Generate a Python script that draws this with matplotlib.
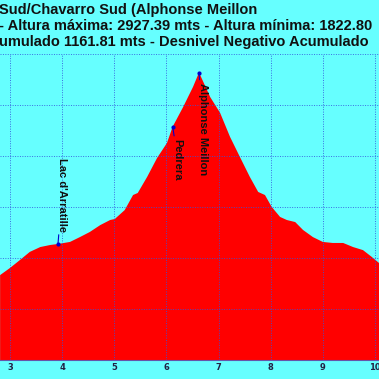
import matplotlib.pyplot as plt
import numpy as np

# perfil (km, metros) - tramo visible
dist = [2.81, 3.00, 3.19, 3.38, 3.58, 3.77, 3.92, 4.15, 4.34, 4.53, 4.73, 4.92, 5.01,
        5.20, 5.36, 5.45, 5.63, 5.82, 6.01, 6.12, 6.32, 6.51, 6.625, 6.84, 7.03, 7.22,
        7.41, 7.60, 7.76, 7.89, 8.02, 8.18, 8.31, 8.47, 8.62, 8.81, 9.00, 9.19, 9.39,
        9.58, 9.77, 9.94, 10.08]
alt = [2133, 2161, 2192, 2224, 2243, 2251, 2255, 2263, 2282, 2302, 2329, 2349, 2353,
       2388, 2447, 2455, 2518, 2592, 2651, 2715, 2792, 2871, 2927.39, 2831, 2769, 2675,
       2596, 2518, 2459, 2447, 2400, 2361, 2349, 2341, 2310, 2282, 2263, 2259, 2259,
       2243, 2231, 2204, 2180]

wp_names = ["Lac d'Arratille", "Pedrera", "Alphonse Meillon"]
wp_km = [3.92, 6.12, 6.625]
wp_alt = [2255, 2715, 2927.39]
wp_off = [(4, 12), (5, -12), (4, -10)]
wp_va = ["bottom", "top", "top"]

xticks = [3, 4, 5, 6, 7, 8, 9, 10]
titles = ["Sud/Chavarro Sud (Alphonse Meillon",
          "- Altura máxima: 2927.39 mts - Altura mínima: 1822.80",
          "umulado 1161.81 mts - Desnivel Negativo Acumulado"]

bg = "#66ffff"
fig = plt.figure(figsize=(3.79, 3.79), dpi=100, facecolor=bg)
ax = fig.add_axes([0, 0.0501, 1, 0.8074])
ax.set_facecolor(bg)

ax.fill_between(dist, 1800, alt, color="#ff0000", lw=0, zorder=1)
ax.set_xlim(2.808, 10.077)
ax.set_ylim(1800, 3000)
ax.set_xticks(xticks)
ax.set_yticks(np.arange(1800, 3001, 200))
ax.set_yticklabels([])
ax.grid(True, color="#3355dd", ls=(0, (1, 1.5)), lw=0.7, alpha=0.85, zorder=2)
ax.set_axisbelow(False)
for s in ax.spines.values():
    s.set_visible(False)
ax.spines["bottom"].set_visible(True)
ax.spines["bottom"].set_color("#6655aa")
ax.tick_params(axis="x", length=0, pad=2, labelsize=6, labelcolor="#222244")
ax.tick_params(axis="y", length=0)
for lab in ax.get_xticklabels():
    lab.set_fontweight("bold")

for name, k, a, off, va in zip(wp_names, wp_km, wp_alt, wp_off, wp_va):
    ax.plot(k, a, "o", color="#0000cc", ms=2, zorder=4)
    ax.annotate(name, xy=(k, a), xytext=off, textcoords="offset pixels",
                rotation=-90, ha="center", va=va, fontsize=8, fontweight="bold",
                family="Liberation Sans", color="#111111", zorder=5,
                arrowprops=dict(arrowstyle="-", color="#0000cc", lw=0.8,
                                shrinkA=0, shrinkB=0))

for i, t in enumerate(titles):
    fig.text(-0.002, 1 - (14 + 16 * i) / 379, t, ha="left", va="baseline",
             fontsize=10.5, fontweight="bold", family="Liberation Sans", color="#111111")

fig.savefig("out.png", dpi=100, facecolor=bg)
